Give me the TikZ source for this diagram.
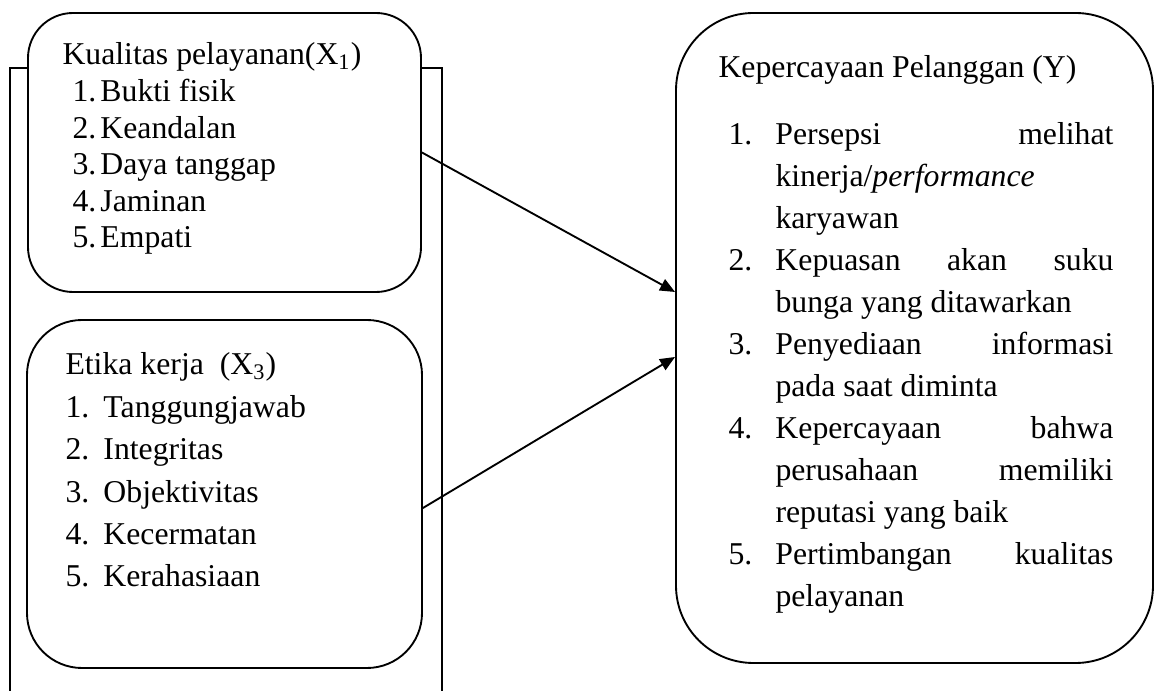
\documentclass[tikz,border=0pt]{standalone}
\usepackage{fontspec}
\setmainfont{Liberation Serif}
\usetikzlibrary{arrows.meta}
\begin{document}
\begin{tikzpicture}[x=0.4pt,y=-0.4pt,
  box/.style={draw,line width=0.75pt,fill=white,rectangle,inner sep=0pt},
  txt/.style={anchor=base west,inner sep=0pt,font=\fontsize{12.7}{15}\selectfont},
  arr/.style={-{Triangle[length=6pt,width=5pt]},line width=0.75pt}]
\useasboundingbox (0,0) rectangle (1154,691);
\fill[white] (0,0) rectangle (1154,691);
% outer open frame
\draw[line width=0.75pt] (10,691) -- (10,68) -- (442,68) -- (442,691);
% boxes
\node[box,rounded corners=18pt,minimum width=157.2pt,minimum height=111.6pt] (box1) at (224.5,152.5) {};
\node[box,rounded corners=22pt,minimum width=158pt,minimum height=139.2pt] (box2) at (224.5,494) {};
\node[box,rounded corners=31pt,minimum width=190.8pt,minimum height=260pt] (rbox) at (914.5,338) {};
% box 1 text
\node[txt] (t1) at (62,65) {Kualitas pelayanan(X\textsubscript{1})};
\foreach \y/\n/\t [count=\i] in {102/1./Bukti fisik,138.5/2./Keandalan,175/3./Daya tanggap,211.5/4./Jaminan,248/5./Empati}
  \node[txt] (a\i) at (72,\y) {\makebox[11.2pt][l]{\n}\t};
% box 2 text
\node[txt] (t2) at (65,375) {Etika kerja\ \ (X\textsubscript{3})};
\foreach \y/\n/\t [count=\i] in {417.4/1./Tanggungjawab,459.8/2./Integritas,502.2/3./Objektivitas,544.6/4./Kecermatan,587/5./Kerahasiaan}
  \node[txt] (b\i) at (65,\y) {\makebox[15.2pt][l]{\n}\t};
% right box text
\node[txt] (t3) at (718,78) {Kepercayaan Pelanggan (Y)};
\foreach \y/\n/\t [count=\i] in {
  145/1./{\makebox[135.2pt][s]{Persepsi melihat}},
  187/{}/{kinerja/\textit{performance}},
  229/{}/karyawan,
  271/2./{\makebox[135.2pt][s]{Kepuasan akan suku}},
  313/{}/bunga yang ditawarkan,
  355/3./{\makebox[135.2pt][s]{Penyediaan informasi}},
  397/{}/pada saat diminta,
  439/4./{\makebox[135.2pt][s]{Kepercayaan bahwa}},
  481/{}/{\makebox[135.2pt][s]{perusahaan memiliki}},
  523/{}/reputasi yang baik,
  565/5./{\makebox[135.2pt][s]{Pertimbangan kualitas}},
  607/{}/pelayanan}
  \node[txt] (c\i) at (728,\y) {\makebox[18.8pt][l]{\n}\t};
% arrows
\draw[arr] (box1.east) -- ([yshift=18.4pt]rbox.west);
\draw[arr] ([yshift=-5.6pt]box2.east) -- ([yshift=-7.6pt]rbox.west);
\end{tikzpicture}
\end{document}
